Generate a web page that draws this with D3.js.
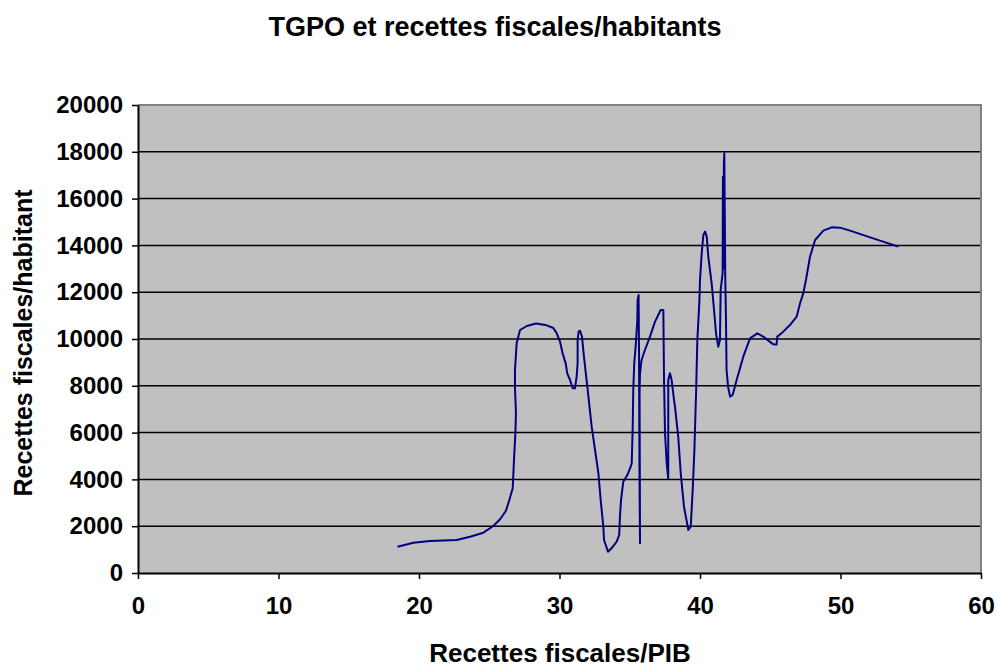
<!DOCTYPE html>
<html>
<head>
<meta charset="utf-8">
<script src="https://cdn.jsdelivr.net/npm/d3@7"></script>
<style>
  html, body { margin: 0; padding: 0; background: #fff; }
  svg { display: block; font-family: "Liberation Sans", Arial, sans-serif; }
</style>
</head>
<body>
<svg id="chart" width="998" height="667"></svg>
<script>
// ---- Data ----
const chartTitle = "TGPO et recettes fiscales/habitants";
const xTitle = "Recettes fiscales/PIB";
const yTitle = "Recettes fiscales/habitant";

const xTicks = [0, 10, 20, 30, 40, 50, 60];
const yTicks = [0, 2000, 4000, 6000, 8000, 10000, 12000, 14000, 16000, 18000, 20000];

// Recettes fiscales/PIB (x) in drawing order
const pib = [
  18.47, 19.6, 20.78, 22.68, 23.63, 24.58, 25.29, 25.77, 26.19, 26.43,
  26.67, 26.76, 26.86, 26.9, 26.83, 26.83, 26.95, 27.19, 27.67, 28.33,
  29.09, 29.56, 29.8, 30.04, 30.22, 30.44, 30.55, 30.75, 30.94, 31.1,
  31.22, 31.29, 31.29, 31.36, 31.46, 31.6, 31.74, 31.98, 32.29, 32.53,
  32.77, 32.93, 33.12, 33.17, 33.45, 33.7, 34.07, 34.25, 34.3, 34.38,
  34.54, 34.83, 35.07, 35.14, 35.21, 35.25, 35.32, 35.42, 35.54, 35.56,
  35.63, 35.66, 35.69, 35.73, 35.70, 35.73, 35.84, 36.08, 36.44, 36.8,
  37.03, 37.2, 37.39, 37.44, 37.51, 37.63, 37.74, 37.74, 37.86, 37.98,
  38.15, 38.22, 38.45, 38.63, 38.86, 39.17, 39.34, 39.48, 39.6, 39.72,
  39.81, 39.95, 40.0, 40.12, 40.24, 40.36, 40.48, 40.59, 40.83, 41.0,
  41.14, 41.3, 41.42, 41.47, 41.61, 41.63, 41.66, 41.70, 41.73, 41.80,
  41.85, 41.89, 42.0, 42.14, 42.32, 42.61, 43.08, 43.56, 44.08, 44.5,
  45.22, 45.45, 45.5, 45.8, 46.4, 46.88, 47.12, 47.35, 47.54, 47.83,
  48.19, 48.78, 49.37, 49.96, 50.68, 52.33, 54.11
];
// Recettes fiscales/habitant (y)
const habitant = [
  1124, 1295, 1368, 1410, 1551, 1722, 2008, 2295, 2662, 3120,
  3619, 4829, 5970, 6825, 7962, 8675, 9815, 10385, 10556, 10660,
  10584, 10470, 10242, 9886, 9390, 8960, 8533, 8248, 7893, 7893,
  8390, 8960, 9957, 10313, 10355, 10100, 9245, 7962, 6252, 5256,
  4260, 3120, 1979, 1410, 911, 1054, 1339, 1624, 2407, 3120,
  3903, 4188, 4544, 4686, 6252, 7821, 8960, 9672, 10812, 11667,
  11880, 9500, 4500, 1269, 7700, 8533, 9103, 9530, 10100, 10740,
  11026, 11240, 11240, 8248, 5970, 4686, 4046, 8248, 8533, 8248,
  7393, 7108, 5826, 4260, 2834, 1838, 1979, 3547, 5256, 7679,
  9957, 11525, 12521, 13662, 14444, 14587, 14373, 13518, 12379, 11240,
  10242, 9672, 9957, 12094, 12806, 16937, 13000, 17500, 17936, 12500,
  10812, 8675, 7962, 7535, 7607, 8248, 9245, 10029, 10242, 10100,
  9772, 9760, 10100, 10242, 10598, 10954, 11525, 11952, 12521, 13518,
  14231, 14630, 14772, 14758, 14630, 14302, 13946
];

// ---- Layout ----
const svg = d3.select("#chart");
const plotLeft = 138, plotRight = 981, plotTop = 105, plotBottom = 573;
const font = '"Liberation Sans", Arial, sans-serif';

const x = d3.scaleLinear().domain([0, 60]).range([plotLeft, plotRight]);
const y = d3.scaleLinear().domain([0, 20000]).range([plotBottom, plotTop]);

// plot area
svg.append("rect")
  .attr("x", plotLeft).attr("y", plotTop)
  .attr("width", plotRight - plotLeft).attr("height", plotBottom - plotTop)
  .attr("fill", "#c0c0c0");

// gridlines
svg.append("g")
  .selectAll("line")
  .data(yTicks.filter(d => d > 0 && d < 20000))
  .join("line")
  .attr("x1", plotLeft).attr("x2", plotRight)
  .attr("y1", d => y(d)).attr("y2", d => y(d))
  .attr("stroke", "#000").attr("stroke-width", 1.5);

// top / right border (gray)
svg.append("path")
  .attr("d", `M${plotLeft},${plotTop}H${plotRight}V${plotBottom}`)
  .attr("fill", "none").attr("stroke", "#808080").attr("stroke-width", 2);

// data line
const line = d3.line().x(d => x(d[0])).y(d => y(d[1])).curve(d3.curveLinear);
svg.append("path")
  .datum(pib.map((v, i) => [v, habitant[i]]))
  .attr("d", line)
  .attr("fill", "none")
  .attr("stroke", "#000080")
  .attr("stroke-width", 2)
  .attr("stroke-linejoin", "round");

// axes
const yAxis = d3.axisLeft(y).tickValues(yTicks).tickFormat(d3.format("d"))
  .tickSizeInner(6).tickSizeOuter(0).tickPadding(9);
const xAxis = d3.axisBottom(x).tickValues(xTicks).tickFormat(d3.format("d"))
  .tickSizeInner(6).tickSizeOuter(0).tickPadding(18);

const gy = svg.append("g").attr("transform", `translate(${plotLeft},0)`).call(yAxis);
const gx = svg.append("g").attr("transform", `translate(0,${plotBottom})`).call(xAxis);

[gx, gy].forEach(g => {
  g.select(".domain").attr("stroke", "#000").attr("stroke-width", 2);
  g.selectAll(".tick line").attr("stroke", "#000").attr("stroke-width", 1.5);
  g.selectAll(".tick text")
    .attr("fill", "#000")
    .style("font-family", font)
    .style("font-weight", "bold")
    .style("font-size", "24px");
});

// titles
svg.append("text")
  .attr("x", 495).attr("y", 36)
  .attr("text-anchor", "middle")
  .style("font-family", font)
  .style("font-weight", "bold").style("font-size", "27px")
  .text(chartTitle);

svg.append("text")
  .attr("x", 560).attr("y", 662)
  .attr("text-anchor", "middle")
  .style("font-family", font)
  .style("font-weight", "bold").style("font-size", "26px")
  .text(xTitle);

svg.append("text")
  .attr("transform", `translate(32,343) rotate(-90)`)
  .attr("text-anchor", "middle")
  .style("font-family", font)
  .style("font-weight", "bold").style("font-size", "25px")
  .text(yTitle);
</script>
</body>
</html>
